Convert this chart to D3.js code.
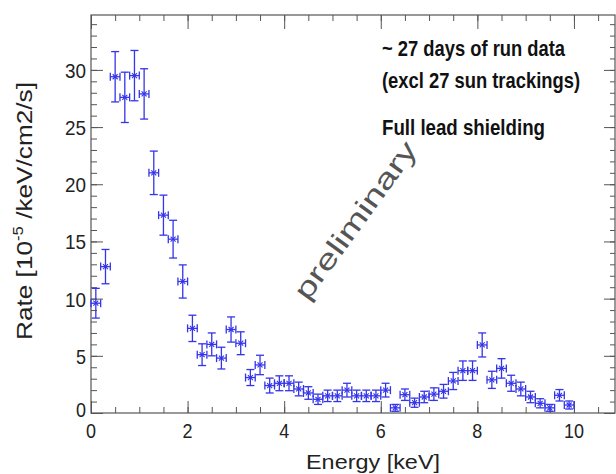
<!DOCTYPE html>
<html>
<head>
<meta charset="utf-8">
<script src="https://cdn.jsdelivr.net/npm/d3@7"></script>
<style>
  body { margin: 0; background: #fff; }
  text { font-family: "Liberation Sans", Arial, sans-serif; }
</style>
</head>
<body>
<section></section>
<script>
//Bin centres in keV (bins are 0.2 keV wide)
const energies = [0.1, 0.3, 0.5, 0.7, 0.9, 1.1, 1.3, 1.5, 1.7, 1.9,
                  2.1, 2.3, 2.5, 2.7, 2.9, 3.1, 3.3, 3.5, 3.7, 3.9,
                  4.1, 4.3, 4.5, 4.7, 4.9, 5.1, 5.3, 5.5, 5.7, 5.9,
                  6.1, 6.3, 6.5, 6.7, 6.9, 7.1, 7.3, 7.5, 7.7, 7.9,
                  8.1, 8.3, 8.5, 8.7, 8.9, 9.1, 9.3, 9.5, 9.7, 9.9];

//Rate per bin
const rates = [9.6, 12.8, 29.4, 27.6, 29.5, 27.9, 21.0, 17.3, 15.2, 11.5,
               7.4, 5.1, 6.0, 4.8, 7.3, 6.1, 3.1, 4.2, 2.4, 2.6,
               2.6, 2.1, 1.75, 1.2, 1.5, 1.5, 2.0, 1.5, 1.5, 1.5,
               2.0, 0.45, 1.6, 0.9, 1.4, 1.65, 1.9, 2.8, 3.7, 3.7,
               5.95, 2.9, 3.9, 2.6, 2.1, 1.4, 0.85, 0.45, 1.55, 0.7];

//Error on each rate
const errors = [1.3, 1.5, 2.2, 2.2, 2.2, 2.2, 1.9, 1.75, 1.65, 1.45,
                1.15, 0.95, 1.0, 0.95, 1.1, 1.0, 0.7, 0.85, 0.65, 0.65,
                0.65, 0.6, 0.55, 0.45, 0.5, 0.5, 0.6, 0.5, 0.5, 0.5,
                0.6, 0.3, 0.5, 0.4, 0.5, 0.55, 0.6, 0.75, 0.85, 0.85,
                1.05, 0.75, 0.85, 0.7, 0.6, 0.5, 0.4, 0.3, 0.5, 0.35];

const binHalfWidth = 0.1;

//Tick values
const xTicks = [0, 2, 4, 6, 8, 10];
const yTicks = [0, 5, 10, 15, 20, 25, 30];

//Text labels
const notes = ["~ 27 days of run data", "(excl 27 sun trackings)", "Full lead shielding"];

const data = energies.map(function (e, i) {
    return { e: e, rate: rates[i], err: errors[i] };
});

let width = 616;
let height = 474;
const plotLeft = 91, plotRight = 615, plotTop = 15, plotBottom = 413;
const blue = "#3434ea";
const frameColor = "#555";

let svg = d3.select("section")
    .append("svg")
    .attr("width", width)
    .attr("height", height);

//Scales
const x = d3.scaleLinear().domain([0, 10.85]).range([plotLeft, plotRight]);
const y = d3.scaleLinear().domain([0, 34.8]).range([plotBottom, plotTop]);

//Frame
svg.append("rect")
    .attr("x", plotLeft)
    .attr("y", plotTop)
    .attr("width", plotRight - plotLeft)
    .attr("height", plotBottom - plotTop)
    .attr("fill", "none")
    .attr("stroke", frameColor)
    .attr("stroke-width", 1.2);

//Axes with ticks pointing inwards, like ROOT
const xMinor = d3.range(0, 10.85, 0.5);
const yMinor = d3.range(0, 34.8, 1);

function addAxis(axis, tx, ty) {
    svg.append("g")
        .attr("transform", `translate(${tx},${ty})`)
        .call(axis)
        .call(g => g.select(".domain").remove())
        .call(g => g.selectAll("line").attr("stroke", frameColor));
}

//Minor ticks
addAxis(d3.axisTop(x).tickValues(xMinor).tickSize(6).tickFormat(""), 0, plotBottom);
addAxis(d3.axisBottom(x).tickValues(xMinor).tickSize(6).tickFormat(""), 0, plotTop);
addAxis(d3.axisRight(y).tickValues(yMinor).tickSize(6).tickFormat(""), plotLeft, 0);
addAxis(d3.axisLeft(y).tickValues(yMinor).tickSize(5).tickFormat(""), plotRight, 0);

//Major ticks
addAxis(d3.axisTop(x).tickValues(xTicks).tickSize(12).tickFormat(""), 0, plotBottom);
addAxis(d3.axisBottom(x).tickValues(xTicks).tickSize(14).tickFormat(""), 0, plotTop);
addAxis(d3.axisRight(y).tickValues(yTicks).tickSize(12).tickFormat(""), plotLeft, 0);
addAxis(d3.axisLeft(y).tickValues(yTicks).tickSize(11).tickFormat(""), plotRight, 0);

//Tick labels, squeezed a bit to look like a narrow font
svg.selectAll(".xlabel")
    .data(xTicks)
    .enter()
    .append("text")
    .attr("class", "xlabel")
    .attr("x", d => x(d))
    .attr("y", 438)
    .attr("text-anchor", "middle")
    .attr("font-size", 21)
    .attr("fill", "#222")
    .attr("textLength", d => d >= 10 ? 20 : 10)
    .attr("lengthAdjust", "spacingAndGlyphs")
    .text(d => d);

svg.selectAll(".ylabel")
    .data(yTicks)
    .enter()
    .append("text")
    .attr("class", "ylabel")
    .attr("x", 86)
    .attr("y", d => d === 0 ? y(d) + 4 : y(d) + 8)
    .attr("text-anchor", "end")
    .attr("font-size", 21)
    .attr("fill", "#222")
    .attr("textLength", d => d >= 10 ? 21 : 10)
    .attr("lengthAdjust", "spacingAndGlyphs")
    .text(d => d);

//Axis titles
svg.append("text")
    .attr("x", 373)
    .attr("y", 469)
    .attr("text-anchor", "middle")
    .attr("font-size", 21)
    .attr("fill", "#222")
    .attr("textLength", 134)
    .attr("lengthAdjust", "spacingAndGlyphs")
    .text("Energy [keV]");

let yTitle = svg.append("text")
    .attr("transform", "translate(32,211) rotate(-90)")
    .attr("text-anchor", "middle")
    .attr("font-size", 22)
    .attr("fill", "#222")
    .attr("textLength", 258)
    .attr("lengthAdjust", "spacingAndGlyphs");
yTitle.append("tspan").text("Rate [10");
yTitle.append("tspan").attr("dy", -9).attr("font-size", 14).text("-5");
yTitle.append("tspan").attr("dy", 9).text(" /keV/cm2/s]");

//Watermark
svg.append("text")
    .attr("transform", "translate(363,226) rotate(-54)")
    .attr("text-anchor", "middle")
    .attr("font-size", 28)
    .attr("fill", "#555")
    .attr("textLength", 188)
    .attr("lengthAdjust", "spacingAndGlyphs")
    .text("preliminary");

//Notes
svg.selectAll(".note")
    .data(notes)
    .enter()
    .append("text")
    .attr("class", "note")
    .attr("x", 382)
    .attr("y", (d, i) => [56, 88, 135][i])
    .attr("font-size", 22)
    .attr("font-weight", "bold")
    .attr("fill", "#111")
    .attr("textLength", (d, i) => [183, 198, 163][i])
    .attr("lengthAdjust", "spacingAndGlyphs")
    .text(d => d);

//Error bars
let points = svg.selectAll(".pt")
    .data(data)
    .enter()
    .append("g")
    .attr("class", "pt")
    .attr("stroke", blue)
    .attr("stroke-width", 1.3)
    .attr("fill", "none");

//Vertical bar
points.append("line")
    .attr("x1", d => x(d.e)).attr("x2", d => x(d.e))
    .attr("y1", d => y(d.rate - d.err)).attr("y2", d => y(d.rate + d.err));

//Caps of vertical bar
points.append("line")
    .attr("x1", d => x(d.e) - 4).attr("x2", d => x(d.e) + 4)
    .attr("y1", d => y(d.rate + d.err)).attr("y2", d => y(d.rate + d.err));
points.append("line")
    .attr("x1", d => x(d.e) - 4).attr("x2", d => x(d.e) + 4)
    .attr("y1", d => y(d.rate - d.err)).attr("y2", d => y(d.rate - d.err));

//Horizontal bar over the bin width
points.append("line")
    .attr("x1", d => x(d.e - binHalfWidth)).attr("x2", d => x(d.e + binHalfWidth))
    .attr("y1", d => y(d.rate)).attr("y2", d => y(d.rate));

//Caps of horizontal bar
points.append("line")
    .attr("x1", d => x(d.e - binHalfWidth)).attr("x2", d => x(d.e - binHalfWidth))
    .attr("y1", d => y(d.rate) - 4).attr("y2", d => y(d.rate) + 4);
points.append("line")
    .attr("x1", d => x(d.e + binHalfWidth)).attr("x2", d => x(d.e + binHalfWidth))
    .attr("y1", d => y(d.rate) - 4).attr("y2", d => y(d.rate) + 4);

//Small star marker
points.append("path")
    .attr("d", d => {
        const cx = x(d.e), cy = y(d.rate);
        return `M${cx - 2.5},${cy - 2.5}L${cx + 2.5},${cy + 2.5}M${cx - 2.5},${cy + 2.5}L${cx + 2.5},${cy - 2.5}`;
    })
    .attr("stroke-width", 1.1);
</script>
</body>
</html>
